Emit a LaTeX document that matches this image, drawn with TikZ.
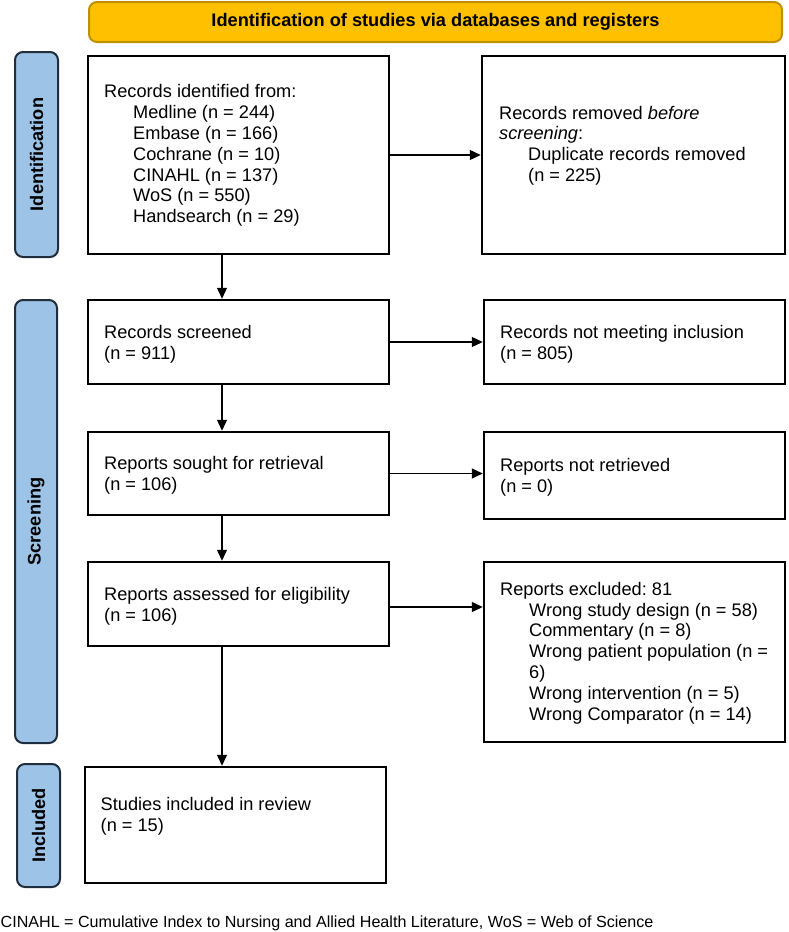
\documentclass[tikz,border=0pt]{standalone}
\usepackage{fontspec}
\setmainfont{Liberation Sans}
\usetikzlibrary{arrows.meta}
\frenchspacing
\definecolor{bannerfill}{HTML}{FFC000}
\definecolor{bannerdraw}{HTML}{BF9000}
\definecolor{barfill}{HTML}{9DC3E6}
\definecolor{bardraw}{HTML}{1F2D3D}
\begin{document}
\begin{tikzpicture}[x=1pt,y=-1pt,
  every node/.style={font=\fontsize{18.2}{20.8}\selectfont},
  banner/.style={draw=bannerdraw, fill=bannerfill, line width=2pt, rounded corners=8pt, font=\fontsize{18.2}{20.8}\selectfont\bfseries, inner sep=0pt},
  sidebar/.style={draw=bardraw, fill=barfill, line width=2pt, rounded corners=8pt, font=\fontsize{18.2}{20.8}\selectfont\bfseries, inner sep=0pt, rotate=90},
  flowbox/.style={draw=black, line width=2.5pt, inner sep=0pt},
  boxtext/.style={anchor=west, align=left, inner sep=0pt},
  foottext/.style={anchor=base west, inner sep=0pt, font=\fontsize{16.1}{19}\selectfont},
  arr/.style={draw=black, line width=1.3pt, -{Triangle[length=11pt,width=10pt]}}
]
\useasboundingbox (0,0) rectangle (788,932);

% banner
\node[banner, minimum width=693pt, minimum height=40pt] (banner) at (435.5,22) {Identification of studies via databases and registers};

% side bars
\node[sidebar, minimum width=205pt, minimum height=43pt] (idbar) at (36.5,154.5) {Identification};
\node[sidebar, minimum width=443pt, minimum height=42pt] (scbar) at (36,521.5) {Screening};
\node[sidebar, minimum width=123pt, minimum height=43pt] (inbar) at (38.5,825.5) {Included};

% boxes
\node[flowbox, minimum width=301pt, minimum height=198pt] (b1) at (238.5,155) {};
\node[flowbox, minimum width=303pt, minimum height=198pt] (b2) at (633.5,155) {};
\node[flowbox, minimum width=301pt, minimum height=84pt] (b3) at (238.5,342) {};
\node[flowbox, minimum width=301pt, minimum height=84pt] (b4) at (634.5,342) {};
\node[flowbox, minimum width=301pt, minimum height=83pt] (b5) at (238.5,473.5) {};
\node[flowbox, minimum width=301pt, minimum height=87pt] (b6) at (634.5,475.5) {};
\node[flowbox, minimum width=301pt, minimum height=84pt] (b7) at (238.5,604) {};
\node[flowbox, minimum width=301pt, minimum height=180pt] (b8) at (634.5,652) {};
\node[flowbox, minimum width=301pt, minimum height=116pt] (b9) at (235.5,825) {};

% texts
\node[boxtext] (t1) at (104,155.5) {Records identified from:\\
\hspace*{29pt}Medline (n = 244)\\
\hspace*{29pt}Embase (n = 166)\\
\hspace*{29pt}Cochrane (n = 10)\\
\hspace*{29pt}CINAHL (n = 137)\\
\hspace*{29pt}WoS (n = 550)\\
\hspace*{29pt}Handsearch (n = 29)};
\node[boxtext] (t2) at (499,145.5) {Records removed \textit{before}\\
\textit{screening}:\\
\hspace*{29pt}Duplicate records removed\\
\hspace*{29pt}(n = 225)};
\node[boxtext] (t3) at (104,344.5) {Records screened\\(n = 911)};
\node[boxtext] (t4) at (500,344.5) {Records not meeting inclusion\\(n = 805)};
\node[boxtext] (t5) at (104,475) {Reports sought for retrieval\\(n = 106)};
\node[boxtext] (t6) at (500,477) {Reports not retrieved\\(n = 0)};
\node[boxtext] (t7) at (104,606) {Reports assessed for eligibility\\(n = 106)};
\node[boxtext] (t8) at (500,653) {Reports excluded: 81\\
\hspace*{29pt}Wrong study design (n = 58)\\
\hspace*{29pt}Commentary (n = 8)\\
\hspace*{29pt}Wrong patient population (n =\\
\hspace*{29pt}6)\\
\hspace*{29pt}Wrong intervention (n = 5)\\
\hspace*{29pt}Wrong Comparator (n = 14)};
\node[boxtext] (t9) at (100.5,816) {Studies included in review\\(n = 15)};

% footer
\node[foottext] (foot) at (0.5,927) {CINAHL = Cumulative Index to Nursing and Allied Health Literature, WoS = Web of Science};

% connectors
\coordinate (col) at (222,0);
\draw[arr] (b1.east) -- (b2.west);
\draw[arr] (b3.east) -- (b3.east -| b4.west);
\draw[arr] (b5.east) -- (b5.east -| b6.west);
\draw[arr] ([yshift=-3pt]b7.east) -- ([yshift=-3pt]b7.east -| b8.west);
\draw[arr] (b1.south -| col) -- (b3.north -| col);
\draw[arr] (b3.south -| col) -- (b5.north -| col);
\draw[arr] (b5.south -| col) -- (b7.north -| col);
\draw[arr] (b7.south -| col) -- (b9.north -| col);
\end{tikzpicture}
\end{document}
